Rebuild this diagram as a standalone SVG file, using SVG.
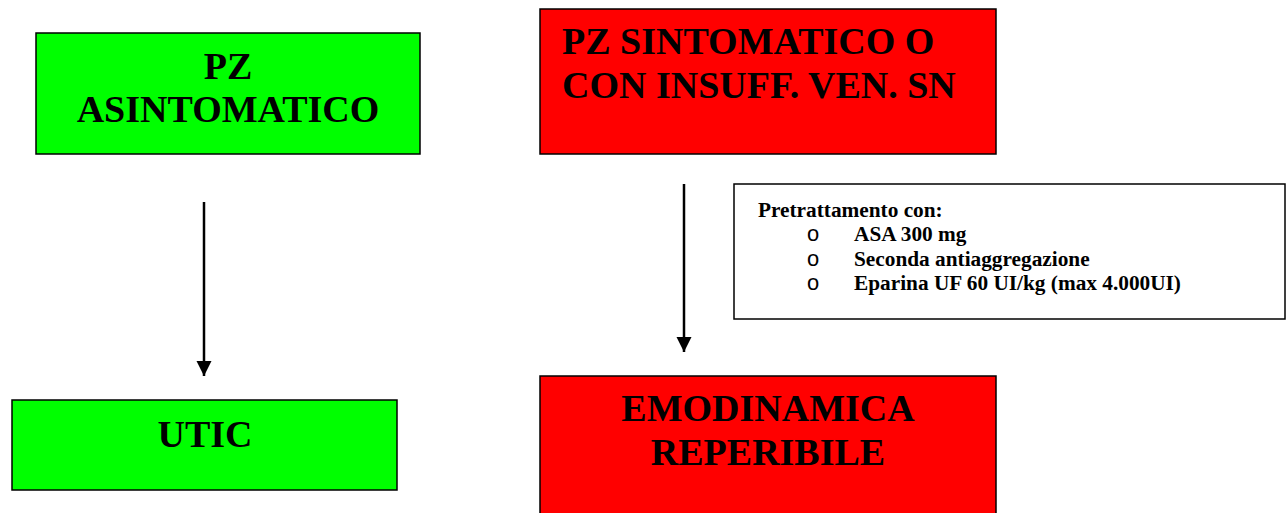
<svg xmlns="http://www.w3.org/2000/svg" width="1287" height="513" viewBox="0 0 1287 513">
<defs>
<style>
.box{stroke:#000;stroke-width:1.5}
.g{fill:#00ff00}
.r{fill:#ff0000}
.big{font-family:"Liberation Serif","Times New Roman",serif;font-weight:bold;font-size:38px;fill:#000}
.sm{font-family:"Liberation Serif","Times New Roman",serif;font-weight:bold;font-size:21.3px;fill:#000}
.bul{font-family:"Liberation Mono","Courier New",monospace;font-size:22px;fill:#000}
.conn{stroke:#000;stroke-width:2.5;fill:none}
</style>
<marker id="ah" markerWidth="16" markerHeight="16" refX="15" refY="7.5" orient="auto" markerUnits="userSpaceOnUse">
<path d="M0,0 L15,7.5 L0,15 Z" fill="#000"/>
</marker>
</defs>
<rect width="1287" height="513" fill="#fff"/>
<g id="n-asintomatico">
<rect class="box g" x="36" y="33" width="384" height="121"/>
<text class="big" x="228" y="79" text-anchor="middle">PZ</text>
<text class="big" x="228" y="122" text-anchor="middle">ASINTOMATICO</text>
</g>
<g id="n-sintomatico">
<rect class="box r" x="540" y="9" width="456" height="145"/>
<text class="big" x="562" y="54">PZ SINTOMATICO O</text>
<text class="big" x="562" y="98">CON INSUFF. VEN. SN</text>
</g>
<g id="n-utic">
<rect class="box g" x="12" y="400" width="385" height="90"/>
<text class="big" x="205" y="447" text-anchor="middle">UTIC</text>
</g>
<g id="n-pretrattamento">
<rect class="box" x="734" y="184" width="551" height="135" fill="#fff"/>
<text class="sm" x="758" y="217">Pretrattamento con:</text>
<text class="bul" x="813" y="241" text-anchor="middle">o</text>
<text class="sm" x="854" y="241">ASA 300 mg</text>
<text class="bul" x="813" y="266" text-anchor="middle">o</text>
<text class="sm" x="854" y="266">Seconda antiaggregazione</text>
<text class="bul" x="813" y="290" text-anchor="middle">o</text>
<text class="sm" x="854" y="290">Eparina UF 60 UI/kg (max 4.000UI)</text>
</g>
<g id="n-emodinamica">
<rect class="box r" x="540" y="376" width="456" height="150"/>
<text class="big" x="768" y="421" text-anchor="middle">EMODINAMICA</text>
<text class="big" x="768" y="465" text-anchor="middle">REPERIBILE</text>
</g>
<g id="connectors">
<line class="conn" x1="204" y1="202" x2="204" y2="376" marker-end="url(#ah)"/>
<line class="conn" x1="684" y1="184" x2="684" y2="352" marker-end="url(#ah)"/>
</g>
</svg>
